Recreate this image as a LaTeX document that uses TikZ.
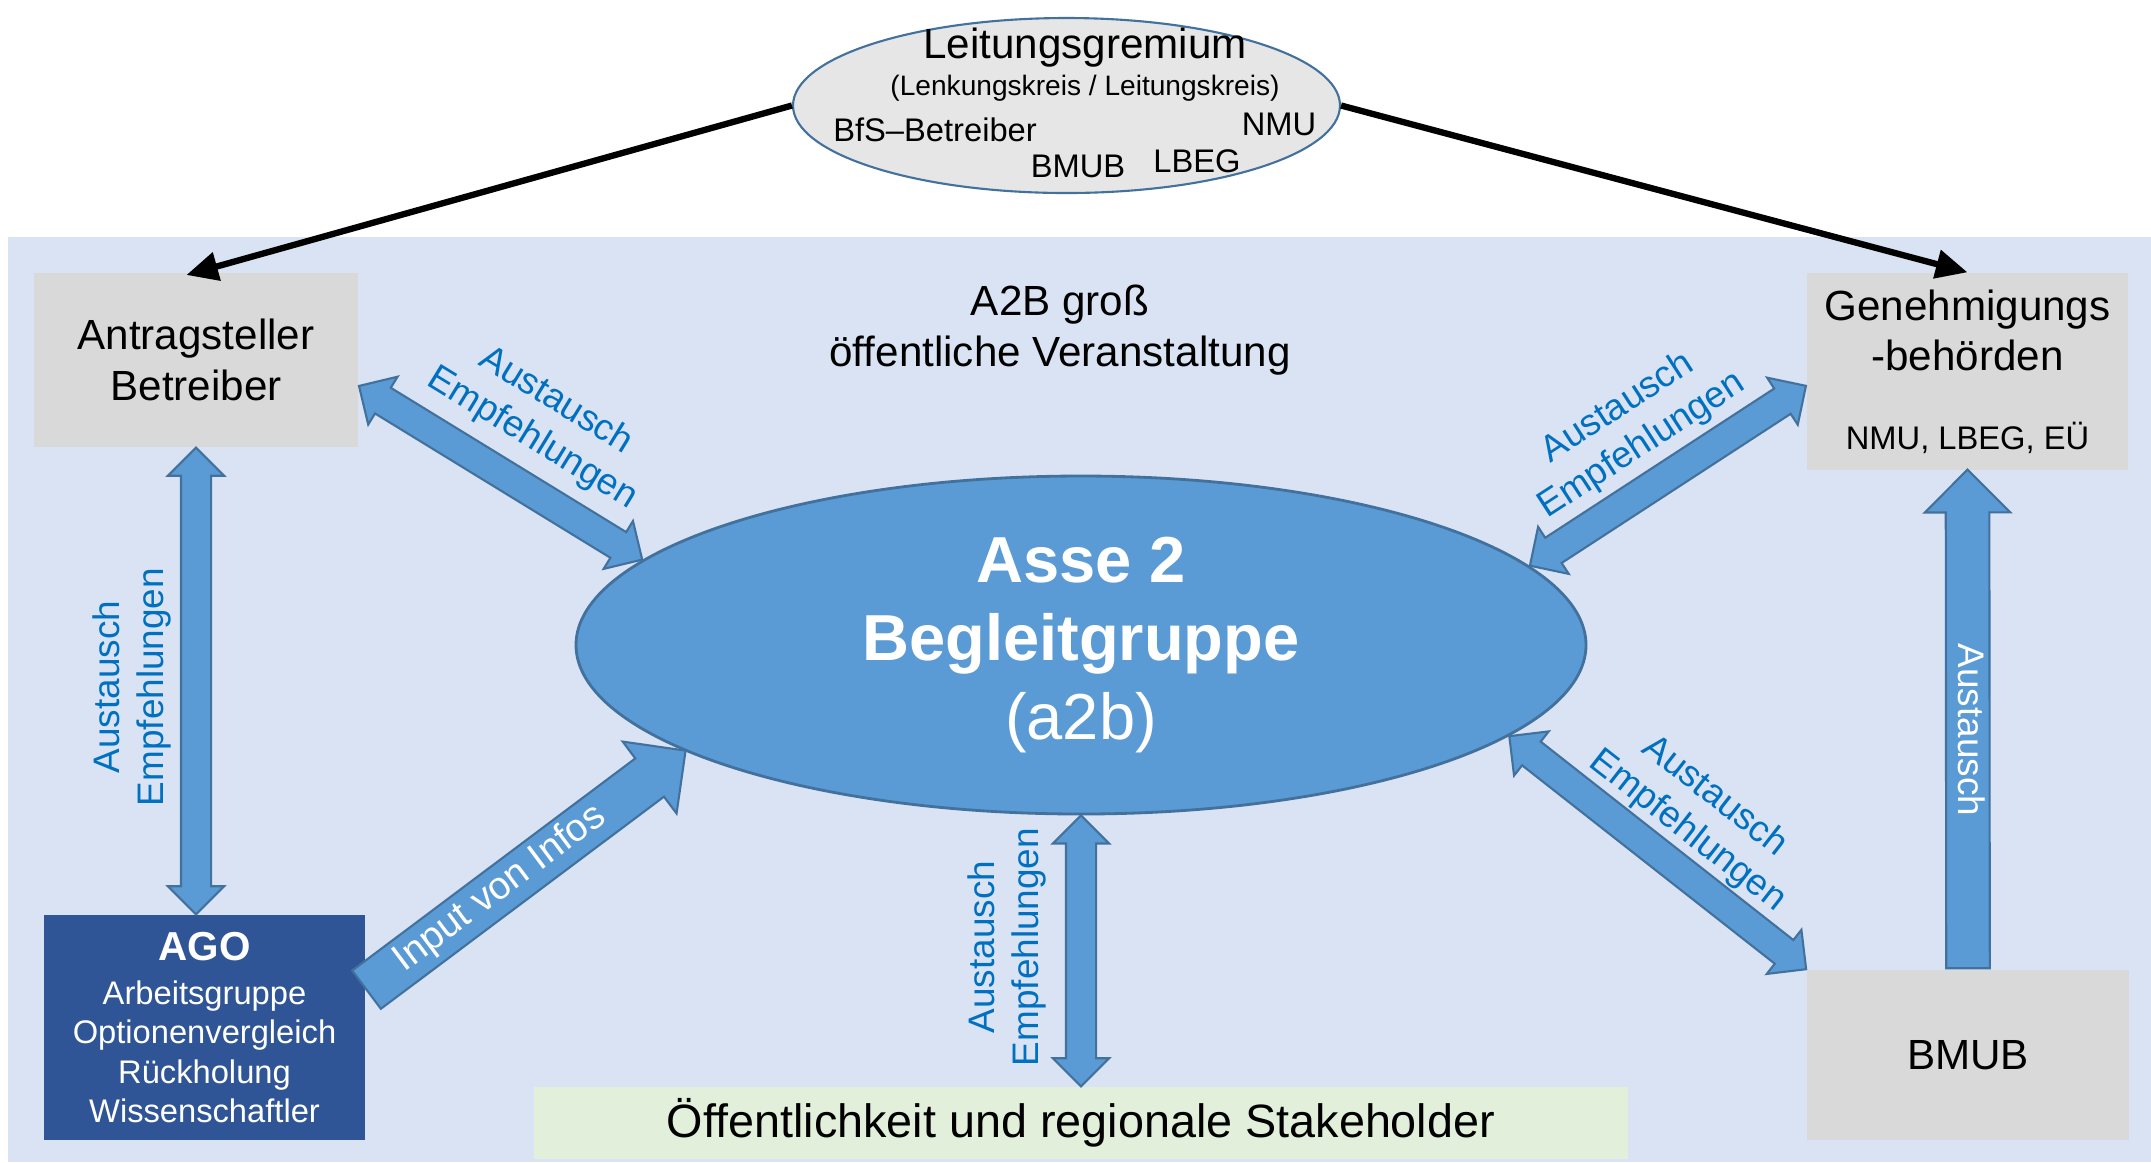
\documentclass[tikz,border=0pt]{standalone}
\usepackage{fontspec}
\setmainfont{Liberation Sans}
\usepackage{tikz}
\usetikzlibrary{arrows.meta,shapes.geometric,shapes.arrows,calc}

\definecolor{bgblue}{HTML}{DAE3F3}
\definecolor{boxgray}{HTML}{D9D9D9}
\definecolor{leadgray}{HTML}{E7E6E6}
\definecolor{agoblue}{HTML}{2F5597}
\definecolor{pubgreen}{HTML}{E2EFDA}
\definecolor{arrowblue}{HTML}{5B9BD5}
\definecolor{arrowedge}{HTML}{41719C}
\definecolor{labelblue}{HTML}{0070C0}

% fat double arrow between two points
\newcommand{\twoway}[3]{%
  \path let \p1=($(#3)-(#2)$), \n1={atan2(\y1,\x1)}, \n2={veclen(\x1,\y1)} in
    node[twoarrow, minimum height=\n2, rotate=\n1] (#1) at ($(#2)!0.5!(#3)$) {};}
% fat single arrow, tail at the first point
\newcommand{\oneway}[5][]{%
  \path let \p1=($(#4)-(#3)$), \n1={atan2(\y1,\x1)}, \n2={veclen(\x1,\y1)} in
    node[onearrow, #1, minimum height=\n2, rotate=\n1, anchor=tail] (#2) at (#3) {#5};}

\begin{document}
\begin{tikzpicture}[
    box/.style={rectangle, fill=boxgray, inner sep=0pt, align=center},
    txtL/.style={font=\fontsize{12}{14.4}\selectfont},
    txtM/.style={font=\fontsize{9.3}{11.2}\selectfont},
    txtS/.style={font=\fontsize{8}{9.6}\selectfont},
    lbl/.style={text=labelblue, align=center, font=\fontsize{10.5}{12.6}\selectfont},
    twoarrow/.style={double arrow, draw=arrowedge, fill=arrowblue, line width=0.6pt,
        double arrow tip angle=90, double arrow head extend=0.13cm,
        inner xsep=0pt, inner ysep=0.14cm},
    onearrow/.style={single arrow, draw=arrowedge, fill=arrowblue, line width=0.6pt,
        single arrow tip angle=90, single arrow head extend=0.21cm,
        inner xsep=0pt, inner ysep=1pt, text height=7.6pt, text depth=2.2pt,
        text=white, font=\fontsize{11}{13.2}\selectfont},
    leadline/.style={line width=1.8pt, -{Triangle[length=9pt,width=8pt]}}
]
    \useasboundingbox (0,0) rectangle (21.51,-11.62);
    \fill[bgblue] (0.08,-2.37) rectangle (21.51,-11.62);

    % STEERING BOARD ON TOP
    \node[ellipse, draw=arrowedge, fill=leadgray, line width=0.6pt,
          minimum width=5.47cm, minimum height=1.75cm] (lead) at (10.665,-1.055) {};
    \node[txtL] (lead-t) at (10.85,-0.48) {Leitungsgremium};
    \node[txtS] (lead-s) at (10.85,-0.88) {(Lenkungskreis / Leitungskreis)};
    \node[txtM] (lead-bfs) at (9.35,-1.30) {BfS–Betreiber};
    \node[txtM] (lead-nmu) at (12.79,-1.24) {NMU};
    \node[txtM] (lead-bmub) at (10.78,-1.66) {BMUB};
    \node[txtM] (lead-lbeg) at (11.97,-1.61) {LBEG};

    % BOXES
    \node[box, txtL, minimum width=3.24cm, minimum height=1.74cm] (anti) at (1.96,-3.60)
        {Antragsteller\\Betreiber};
    \node[box, txtL, minimum width=3.21cm, minimum height=1.97cm] (gen) at (19.675,-3.715)
        {Genehmigungs\\-behörden\\[8pt]{\fontsize{9.3}{11.2}\selectfont NMU, LBEG, EÜ}};
    \node[box, fill=agoblue, text=white, font=\fontsize{9.3}{11.2}\selectfont,
          minimum width=3.21cm, minimum height=2.25cm] (ago) at (2.045,-10.275)
        {{\fontsize{11.5}{13.8}\selectfont\bfseries AGO}\\[1.4pt]Arbeitsgruppe\\Optionenvergleich\\Rückholung\\Wissenschaftler};
    \node[box, txtL, minimum width=3.22cm, minimum height=1.70cm] (bmub) at (19.68,-10.55) {BMUB};
    \node[box, fill=pubgreen, font=\fontsize{13.3}{16}\selectfont,
          minimum width=10.94cm, minimum height=0.72cm] (pub) at (10.81,-11.23)
        {Öffentlichkeit und regionale Stakeholder};

    % CENTRAL GROUP
    \node[ellipse, draw=arrowedge, fill=arrowblue, line width=0.8pt, inner sep=0pt,
          minimum width=10.10cm, minimum height=3.38cm, text=white, align=center,
          font=\fontsize{18.5}{22.2}\selectfont] (asse) at (10.81,-6.45)
        {\textbf{Asse 2}\\\textbf{Begleitgruppe}\\(a2b)};
    \node[txtL, align=center] (a2b) at (10.60,-3.30) {A2B groß\\öffentliche Veranstaltung};

    % BLACK LINES FROM THE BOARD
    \draw[leadline, shorten >=-0.1cm] (lead.west) -- (anti.north);
    \draw[leadline] (lead.east) -- (gen.north);

    % FAT ARROWS
    \twoway{ar-ago}{anti.south}{anti.south |- ago.north}
    \twoway{ar-anti}{anti.351}{asse.169}
    \twoway{ar-gen}{asse.10}{gen.185}
    \twoway{ar-bmub}{asse.348}{bmub.north west}
    \twoway{ar-pub}{asse.south}{pub.north}
    \oneway[inner ysep=1.6pt]{ar-input}{ago.13}{asse.195}{Input von Infos\hspace*{4mm}}
    \oneway[shape border rotate=180, rotate=180, font=\fontsize{10.5}{12.6}\selectfont]{ar-up}{bmub.north}{gen.south}{Austausch}

    % LABELS
    \node[lbl, rotate=90] (lbl-ago) at (1.32,-6.87) {Austausch\\Empfehlungen};
    \node[lbl, rotate=-31.5] (lbl-anti) at (5.44,-4.20) {Austausch\\Empfehlungen};
    \node[lbl, rotate=33] (lbl-gen) at (16.30,-4.27) {Austausch\\Empfehlungen};
    \node[lbl, rotate=-38] (lbl-bmub) at (17.01,-8.14) {Austausch\\Empfehlungen};
    \node[lbl, rotate=90] (lbl-pub) at (10.07,-9.47) {Austausch\\Empfehlungen};
\end{tikzpicture}
\end{document}
